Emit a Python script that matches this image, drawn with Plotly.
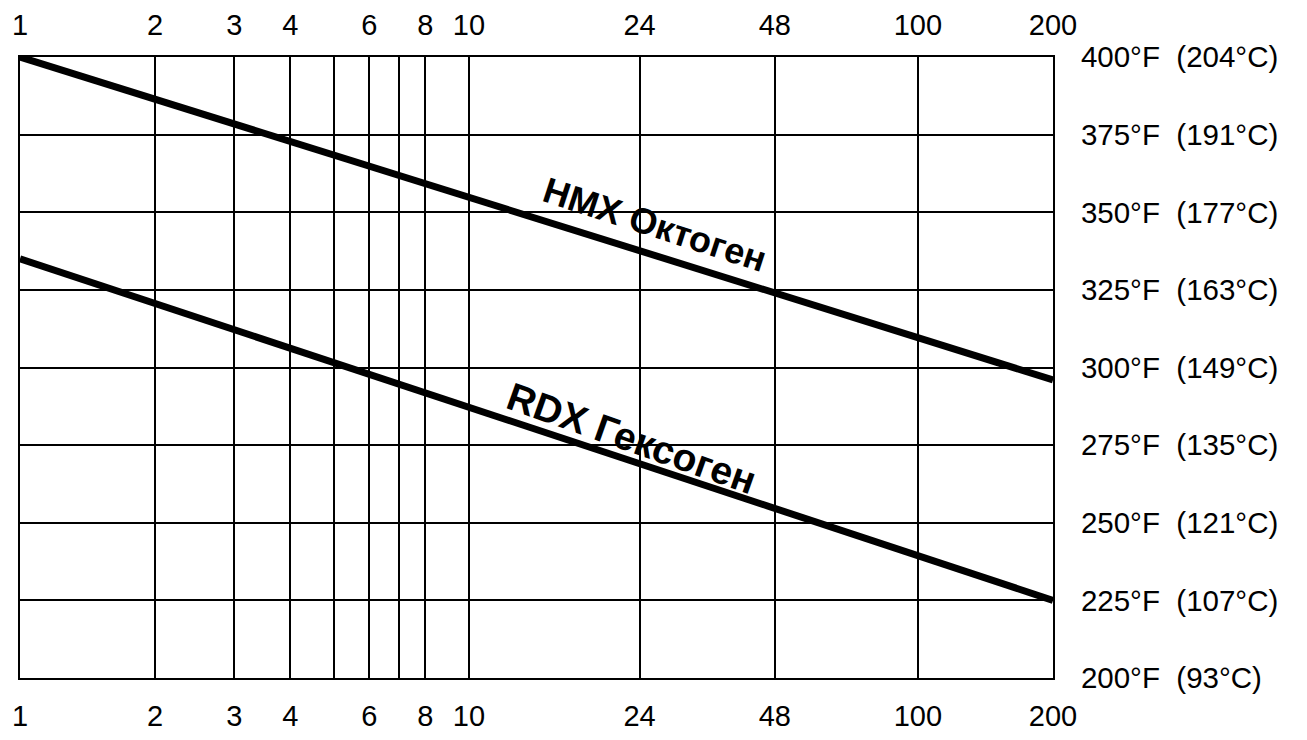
import math
import plotly.graph_objects as go

# Data
hours = [1, 200]
hmx_temp_f = [400, 296]
rdx_temp_f = [335, 225]

x_grid_vals = [1, 2, 3, 4, 5, 6, 7, 8, 10, 24, 48, 100, 200]
x_tick_text = ["1", "2", "3", "4", "", "6", "", "8", "10", "24", "48", "100", "200"]

y_tick_vals = [200, 225, 250, 275, 300, 325, 350, 375, 400]
y_tick_c = [93, 107, 121, 135, 149, 163, 177, 191, 204]
y_tick_text = [f"{f}°F\u00a0\u00a0({c}°C)" for f, c in zip(y_tick_vals, y_tick_c)]

labels = ["HMX Октоген", "RDX Гексоген"]

FONT = "Liberation Sans, Arial, Helvetica, sans-serif"

fig = go.Figure()
fig.add_trace(go.Scatter(x=hours, y=hmx_temp_f, mode="lines",
                         line=dict(color="black", width=7), showlegend=False))
fig.add_trace(go.Scatter(x=hours, y=rdx_temp_f, mode="lines",
                         line=dict(color="black", width=7), showlegend=False))
# invisible trace for top axis
fig.add_trace(go.Scatter(x=hours, y=hmx_temp_f, mode="lines", xaxis="x2",
                         line=dict(color="rgba(0,0,0,0)"), showlegend=False,
                         hoverinfo="skip"))

xr = [0, math.log10(200)]
axis_common = dict(
    type="log", range=xr, tickvals=x_grid_vals, ticktext=x_tick_text,
    showgrid=True, gridcolor="black", gridwidth=1.5,
    tickfont=dict(family=FONT, size=29, color="black"),
    ticks="", zeroline=False, automargin=False,
)
fig.update_layout(
    width=1307, height=740,
    paper_bgcolor="white", plot_bgcolor="white",
    margin=dict(l=12, r=262, t=49, b=70),
    xaxis=dict(**axis_common, side="bottom", showline=True, linecolor="black",
               linewidth=2, mirror=True, ticklabelstandoff=11),
    xaxis2=dict(**axis_common, side="top", overlaying="x", ticklabelstandoff=15),
    yaxis=dict(range=[200, 400], side="right", tickvals=y_tick_vals,
               ticktext=y_tick_text, showgrid=True, gridcolor="black",
               gridwidth=1.5, showline=True, linecolor="black", linewidth=2,
               mirror=True, zeroline=False, ticks="", automargin=False,
               ticklabelstandoff=20,
               tickfont=dict(family=FONT, size=29.5, color="black")),
    showlegend=False,
)

fig.add_annotation(x=1.414, y=346, xref="x", yref="y", text=f"<b>{labels[0]}</b>",
                   showarrow=False, textangle=18,
                   font=dict(family=FONT, size=36, color="black"))
fig.add_annotation(x=1.363, y=277, xref="x", yref="y", text=f"<b>{labels[1]}</b>",
                   showarrow=False, textangle=19.5,
                   font=dict(family=FONT, size=39, color="black"))

fig.write_html("out.html")
